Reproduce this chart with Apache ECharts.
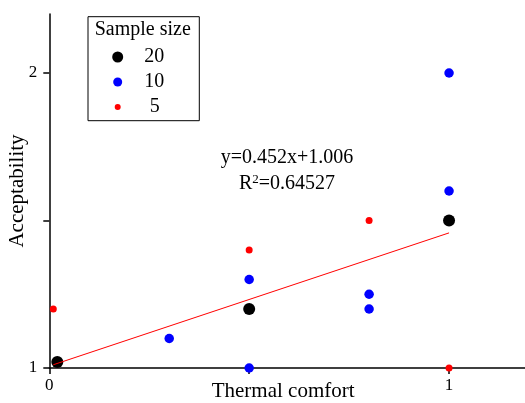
<!DOCTYPE html>
<html>
<head>
<meta charset="utf-8">
<script src="https://cdn.jsdelivr.net/npm/echarts@6/dist/echarts.min.js"></script>
<style>html,body{margin:0;padding:0;background:#fff}#c{width:525px;height:403px}</style>
</head>
<body>
<div id="c"></div>
<script>
// Data
var size20 = [[0.02, 1.02], [0.5, 1.2], [1, 1.5]];
var size10 = [[1, 2.0], [1, 1.6], [0.5, 1.3], [0.5, 1.0], [0.3, 1.1], [0.8, 1.25], [0.8, 1.2]];
var size5 = [[0.01, 1.2], [0.5, 1.4], [0.8, 1.5], [1, 1.0]];
var fitLine = [[0.01, 1.011], [1, 1.458]];
var xTicks = [0, 0.5, 1];
var xLabels = [0, 1];
var yTicks = [1, 1.5, 2];
var yLabels = [1, 2];
var seriesNames = ['20', '10', '5'];
var eqText = 'y=0.452x+1.006';
var r2Value = '0.64527';

var F = 'Liberation Serif, Times New Roman, serif';
var chart = echarts.init(document.getElementById('c'));

function legendItem(name, size, top, pad) {
  return {
    data: [name], left: 117.7 - size / 2, top: top, orient: 'vertical',
    padding: 0, itemWidth: size, itemHeight: size, icon: 'circle',
    selectedMode: false,
    textStyle: { fontFamily: F, fontSize: 20, color: '#000', lineHeight: 20, padding: [0, 0, 0, pad] }
  };
}

chart.setOption({
  animation: false,
  backgroundColor: '#fff',
  grid: { left: 49.3, right: 0, top: 14, bottom: 35, containLabel: false, outerBoundsMode: 'none' },
  xAxis: {
    type: 'value', min: 0, max: 1.19,
    name: 'Thermal comfort', nameLocation: 'middle', nameGap: 13, nameMoveOverlap: false,
    nameTextStyle: { fontFamily: F, fontSize: 21, color: '#000', padding: [0, 8, 0, 0] },
    axisLine: { lineStyle: { color: '#000', width: 1.5 } },
    axisTick: { show: true, customValues: xTicks, length: 6, inside: false, lineStyle: { color: '#000', width: 1.5 } },
    axisLabel: { customValues: xLabels, fontFamily: F, fontSize: 17, color: '#000', margin: 9 },
    splitLine: { show: false }
  },
  yAxis: {
    type: 'value', min: 1, max: 2.2,
    name: 'Acceptability', nameLocation: 'middle', nameGap: 21, nameMoveOverlap: false,
    nameTextStyle: { fontFamily: F, fontSize: 21, color: '#000' },
    axisLine: { show: true, lineStyle: { color: '#000', width: 1.5 } },
    axisTick: { show: true, customValues: yTicks, length: 6, lineStyle: { color: '#000', width: 1.5 } },
    axisLabel: { customValues: yLabels, fontFamily: F, fontSize: 17, color: '#000', margin: 12 },
    splitLine: { show: false }
  },
  legend: [
    legendItem('20', 11, 47, 16),
    legendItem('10', 9, 72, 17),
    legendItem('5', 6, 97, 24)
  ],
  graphic: [
    { type: 'rect', shape: { x: 88, y: 16.7, width: 111.3, height: 104 },
      style: { fill: 'none', stroke: '#000', lineWidth: 1 }, z: 10 },
    { type: 'text', x: 94.7, y: 30, style: { text: 'Sample size', font: '20px ' + F, fill: '#000', verticalAlign: 'middle' }, z: 10 },
    { type: 'text', x: 287, y: 158, style: { text: eqText, font: '20px ' + F, fill: '#000', align: 'center', verticalAlign: 'middle' }, z: 10 },
    { type: 'text', x: 287, y: 184, style: {
        text: 'R{s|2}=' + r2Value, font: '20px ' + F, fill: '#000', align: 'center', verticalAlign: 'middle',
        rich: { s: { fontSize: 13, fontFamily: F, verticalAlign: 'top', padding: [0, 0, 8, 0] } }
      }, z: 10 }
  ],
  series: [
    { name: seriesNames[0], type: 'scatter', data: size20, symbolSize: 12, itemStyle: { color: '#000', opacity: 1 } },
    { name: seriesNames[1], type: 'scatter', data: size10, symbolSize: 9.5, itemStyle: { color: '#0000ff', opacity: 1 } },
    { name: seriesNames[2], type: 'scatter', data: size5, symbolSize: 7, itemStyle: { color: '#ff0000', opacity: 1 } },
    { name: 'fit', type: 'line', data: fitLine, symbol: 'none', lineStyle: { color: '#ff0000', width: 1 } }
  ]
});
</script>
</body>
</html>
